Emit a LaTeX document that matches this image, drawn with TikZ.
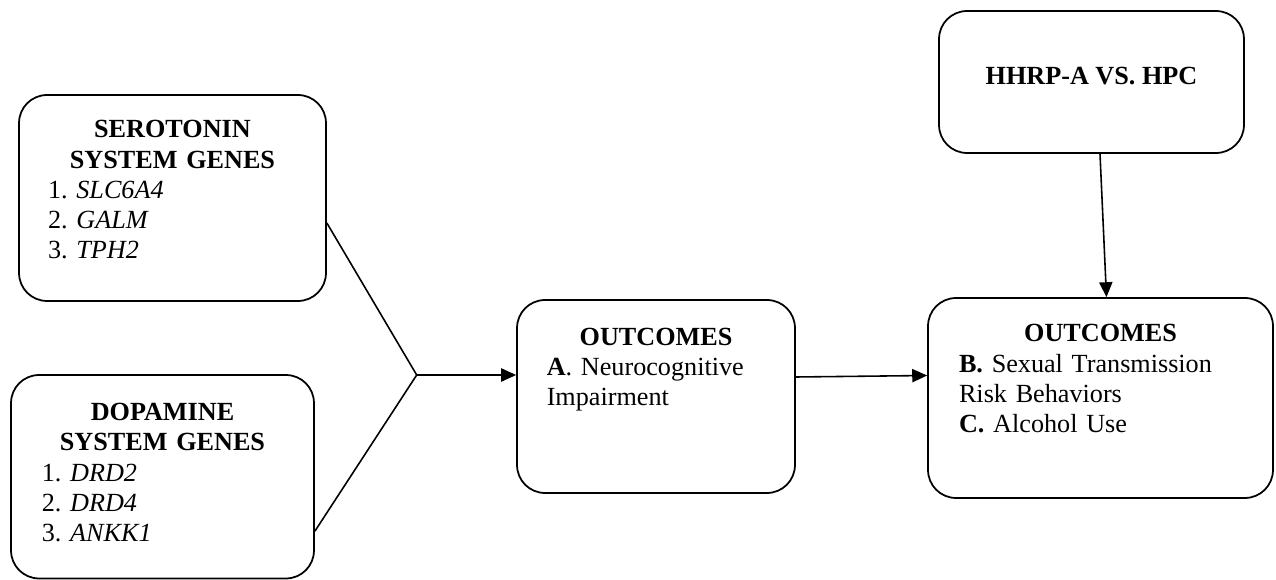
\documentclass[tikz,border=0pt]{standalone}
\usepackage{fontspec}
\setmainfont{Liberation Serif}
\usetikzlibrary{arrows.meta}
\frenchspacing

\begin{document}
\begin{tikzpicture}[x=0.02cm, y=-0.02cm,
    caixa/.style={draw, rounded corners=0.56cm, line width=1pt, inner sep=0pt},
    texto/.style={anchor=north, inner sep=0pt, align=left,
      font=\fontsize{14.9pt}{17.2pt}\selectfont},
    seta/.style={line width=0.9pt, -{Triangle[length=8.5pt, width=7.5pt]}}]
  \useasboundingbox (0,0) rectangle (1276,580);

  % 1. Caixas arredondadas (nome / centro x / centro y / largura / altura)
  \foreach \nome/\x/\y/\w/\h in {sero/172.5/198/6.14/4.12, dopa/162.5/476.75/6.06/4.07,
      out1/656/396.5/5.56/3.86, out2/1100.5/398/6.9/4.0, hhrp/1091.5/82/6.1/2.84} {
    \node[caixa, minimum width=\w cm, minimum height=\h cm] (\nome) at (\x,\y) {};
  }

  % 2. Textos de cada caixa (titulo centrado, lista alinhada a esquerda)
  \node[texto, text width=4.98cm] (t-sero) at (172.5,120.3) {%
    {\centering\bfseries SEROTONIN\\ SYSTEM GENES\par}
    1. \textit{SLC6A4}\\ 2. \textit{GALM}\\ 3. \textit{TPH2}};
  \node[texto, text width=4.83cm] (t-dopa) at (162.5,403) {%
    {\centering\bfseries DOPAMINE\\ SYSTEM GENES\par}
    1. \textit{DRD2}\\ 2. \textit{DRD4}\\ 3. \textit{ANKK1}};
  \node[texto, text width=4.37cm] (t-out1) at (656,327.6) {%
    {\centering\bfseries OUTCOMES\par}
    \textbf{A}. Neurocognitive\\ Impairment};
  \node[texto, text width=5.66cm] (t-out2) at (1100.5,324.3) {%
    {\centering\bfseries OUTCOMES\par}
    \textbf{B.} Sexual Transmission\\ Risk Behaviors\\ \textbf{C.} Alcohol Use};
  \node[texto, font=\fontsize{14.9pt}{17.2pt}\selectfont\bfseries] (t-hhrp) at (1091.5,66.6) {HHRP-A VS. HPC};

  % 3. Ligacoes: os dois sistemas se juntam num ponto e seguem para os desfechos
  \coordinate (j) at (416.7,375);
  \draw[line width=0.9pt] ([yshift=-0.5cm]sero.east) -- (j) -- ([yshift=-1.09cm]dopa.east);
  \draw[seta] (j) -- (j -| out1.west);
  \draw[seta] ([yshift=0.39cm]out1.east) -- ([yshift=0.45cm]out2.west);
  \draw[seta] ([xshift=0.17cm]hhrp.south) -- ([xshift=0.12cm]out2.north); % grupo -> desfechos B e C
\end{tikzpicture}
\end{document}
